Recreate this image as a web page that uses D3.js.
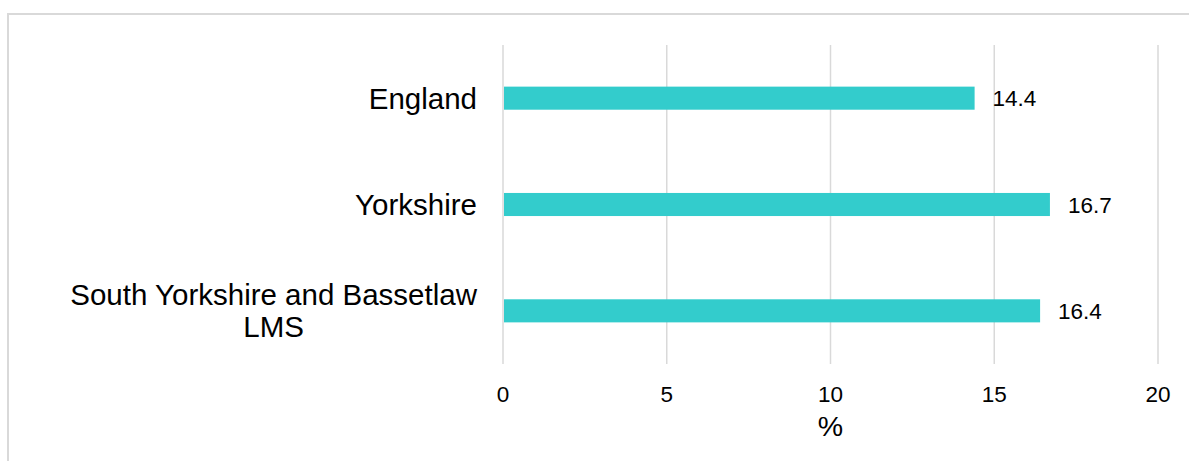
<!DOCTYPE html>
<html>
<head>
<meta charset="utf-8">
<script src="https://cdn.jsdelivr.net/npm/d3@7"></script>
<style>
html,body{margin:0;padding:0;background:#fff;}
svg{display:block;font-family:"Liberation Sans",Arial,sans-serif;}
</style>
</head>
<body>
<svg id="chart" width="1189" height="461"></svg>
<script>
const categories = ["England", "Yorkshire", "South Yorkshire and Bassetlaw\nLMS"];
const values = [14.4, 16.7, 16.4];
const xTicks = [0, 5, 10, 15, 20];
const axisTitle = "%";

const svg = d3.select("#chart");
const W = 1189, H = 461;

// outer border
svg.append("rect")
  .attr("x", 8).attr("y", 14)
  .attr("width", W + 10).attr("height", H + 10)
  .attr("fill", "none").attr("stroke", "#d9d9d9").attr("stroke-width", 2);

const x = d3.scaleLinear().domain([0, 20]).range([503, 1158]);
const y = d3.scaleBand().domain(categories).range([45, 364])
  .paddingInner(0.783).paddingOuter(0.3915);

// gridlines
svg.append("g").selectAll("line").data(xTicks).join("line")
  .attr("x1", d => x(d)).attr("x2", d => x(d))
  .attr("y1", 45).attr("y2", 364)
  .attr("stroke", "#d9d9d9").attr("stroke-width", 1.5);

// tick labels
svg.append("g").selectAll("text").data(xTicks).join("text")
  .attr("x", d => x(d)).attr("y", 402)
  .attr("text-anchor", "middle")
  .attr("font-size", 22.5).attr("fill", "#000")
  .text(d => d);

// axis title
svg.append("text")
  .attr("x", (x(0) + x(20)) / 2).attr("y", 436)
  .attr("text-anchor", "middle")
  .attr("font-size", 28.5).attr("fill", "#000")
  .text(axisTitle);

const data = categories.map((c, i) => ({c, v: values[i]}));

// bars
svg.append("g").selectAll("rect").data(data).join("rect")
  .attr("x", x(0) + 1)
  .attr("y", d => y(d.c))
  .attr("width", d => x(d.v) - x(0) - 1)
  .attr("height", y.bandwidth())
  .attr("fill", "#33cccc");

// value labels
svg.append("g").selectAll("text").data(data).join("text")
  .attr("x", d => x(d.v) + 18)
  .attr("y", d => y(d.c) + y.bandwidth() / 2 + 8)
  .attr("font-size", 22.5).attr("fill", "#000")
  .text(d => d.v);

// category labels (centered multi-line block, right edge at 477)
const labelRight = 477;
const fs = 29.5, lh = 32;
data.forEach(d => {
  const lines = d.c.split("\n");
  const g = svg.append("g");
  const texts = lines.map((ln, i) => g.append("text")
    .attr("font-size", fs).attr("fill", "#000")
    .attr("text-anchor", "middle")
    .text(ln));
  const maxW = d3.max(texts, t => t.node().getComputedTextLength());
  const cx = labelRight - maxW / 2;
  const cy = y(d.c) + y.bandwidth() / 2;
  const n = lines.length;
  texts.forEach((t, i) => {
    const base = cy + 10.5 + (i - (n - 1) / 2) * lh;
    t.attr("x", cx).attr("y", base);
  });
});
</script>
</body>
</html>
